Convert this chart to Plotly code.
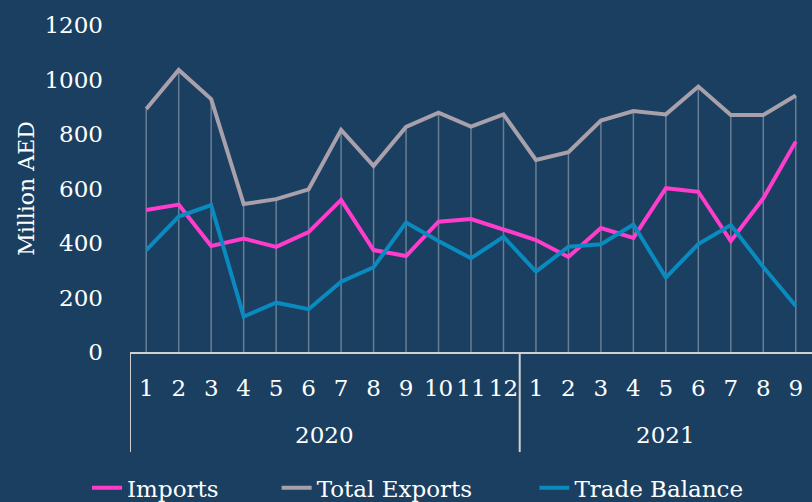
import plotly.graph_objects as go

year_labels = ["2020", "2021"]
year_counts = [12, 9]
months = [str(m) for m in range(1, 13)] + [str(m) for m in range(1, 10)]

imports = [521, 541, 389, 416, 386, 440, 558, 374, 352, 478, 488, 448,
           411, 349, 455, 419, 601, 588, 407, 564, 772]
total_exports = [892, 1035, 928, 543, 561, 597, 815, 683, 826, 878, 827, 872,
                 705, 733, 849, 884, 872, 974, 870, 870, 941]
trade_balance = [374, 497, 539, 130, 181, 157, 258, 311, 475, 407, 344, 423,
                 295, 386, 395, 468, 273, 396, 466, 312, 169]

y_ticks = [0, 200, 400, 600, 800, 1000, 1200]

BG = "#1b3f60"
FONT = "DejaVu Serif"
AXIS_COL = "#d0d0d0"
x = list(range(len(months)))

fig = go.Figure()

# drop lines from axis up to the highest series
fig.add_trace(go.Scatter(
    x=x, y=total_exports, mode="markers",
    marker=dict(opacity=0, size=1),
    error_y=dict(type="data", symmetric=False, array=[0] * len(total_exports),
                 arrayminus=total_exports, width=0, thickness=1.5,
                 color="rgba(200,205,215,0.45)"),
    showlegend=False, hoverinfo="skip"))

fig.add_trace(go.Scatter(x=x, y=imports, mode="lines", name="Imports",
                         line=dict(color="#ff3ccc", width=4), legend="legend"))
fig.add_trace(go.Scatter(x=x, y=total_exports, mode="lines", name="Total Exports",
                         line=dict(color="#a8a0aa", width=4), legend="legend2"))
fig.add_trace(go.Scatter(x=x, y=trade_balance, mode="lines", name="Trade Balance",
                         line=dict(color="#0a8bc0", width=4), legend="legend3"))

# year group labels and dividers
start = 0
for label, n in zip(year_labels, year_counts):
    fig.add_annotation(x=start + (n - 1) / 2, y=-0.254, xref="x", yref="paper",
                       text=label, showarrow=False, yanchor="middle",
                       font=dict(family=FONT, size=23, color="white"))
    fig.add_shape(type="line", xref="x", yref="paper",
                  x0=start - 0.5, x1=start - 0.5, y0=0, y1=-0.306,
                  line=dict(color=AXIS_COL, width=2))
    start += n

leg_common = dict(orientation="h", yanchor="middle", y=-0.415, xanchor="left",
                  font=dict(family=FONT, size=23, color="white"),
                  bgcolor="rgba(0,0,0,0)")

fig.update_layout(
    width=812, height=502,
    paper_bgcolor=BG, plot_bgcolor=BG,
    margin=dict(l=130, r=0, t=25, b=150, autoexpand=False),
    font=dict(family=FONT, size=23, color="white"),
    legend=dict(x=-0.063, **leg_common),
    legend2=dict(x=0.215, **leg_common),
    legend3=dict(x=0.593, **leg_common),
    xaxis=dict(range=[-0.5, len(months) - 0.5], tickvals=x, ticktext=months,
               showgrid=False, showline=True, linecolor=AXIS_COL, linewidth=2,
               ticks="", ticklabelstandoff=14, tickangle=0,
               tickfont=dict(family=FONT, size=23, color="white"),
               automargin=False, zeroline=False),
    yaxis=dict(range=[0, 1200], tickvals=y_ticks, showgrid=False,
               showline=False, zeroline=False, ticks="",
               ticklabelstandoff=26,
               tickfont=dict(family=FONT, size=23, color="white"),
               title=dict(text="Million AED", standoff=3,
                          font=dict(family=FONT, size=22, color="white")),
               automargin=False),
)

fig.write_html("out.html", config={"displayModeBar": False}, post_script=(
    "document.body.style.margin='0';"
    "document.body.style.background='" + BG + "';"
    "window.dispatchEvent(new Event('resize'));"))
